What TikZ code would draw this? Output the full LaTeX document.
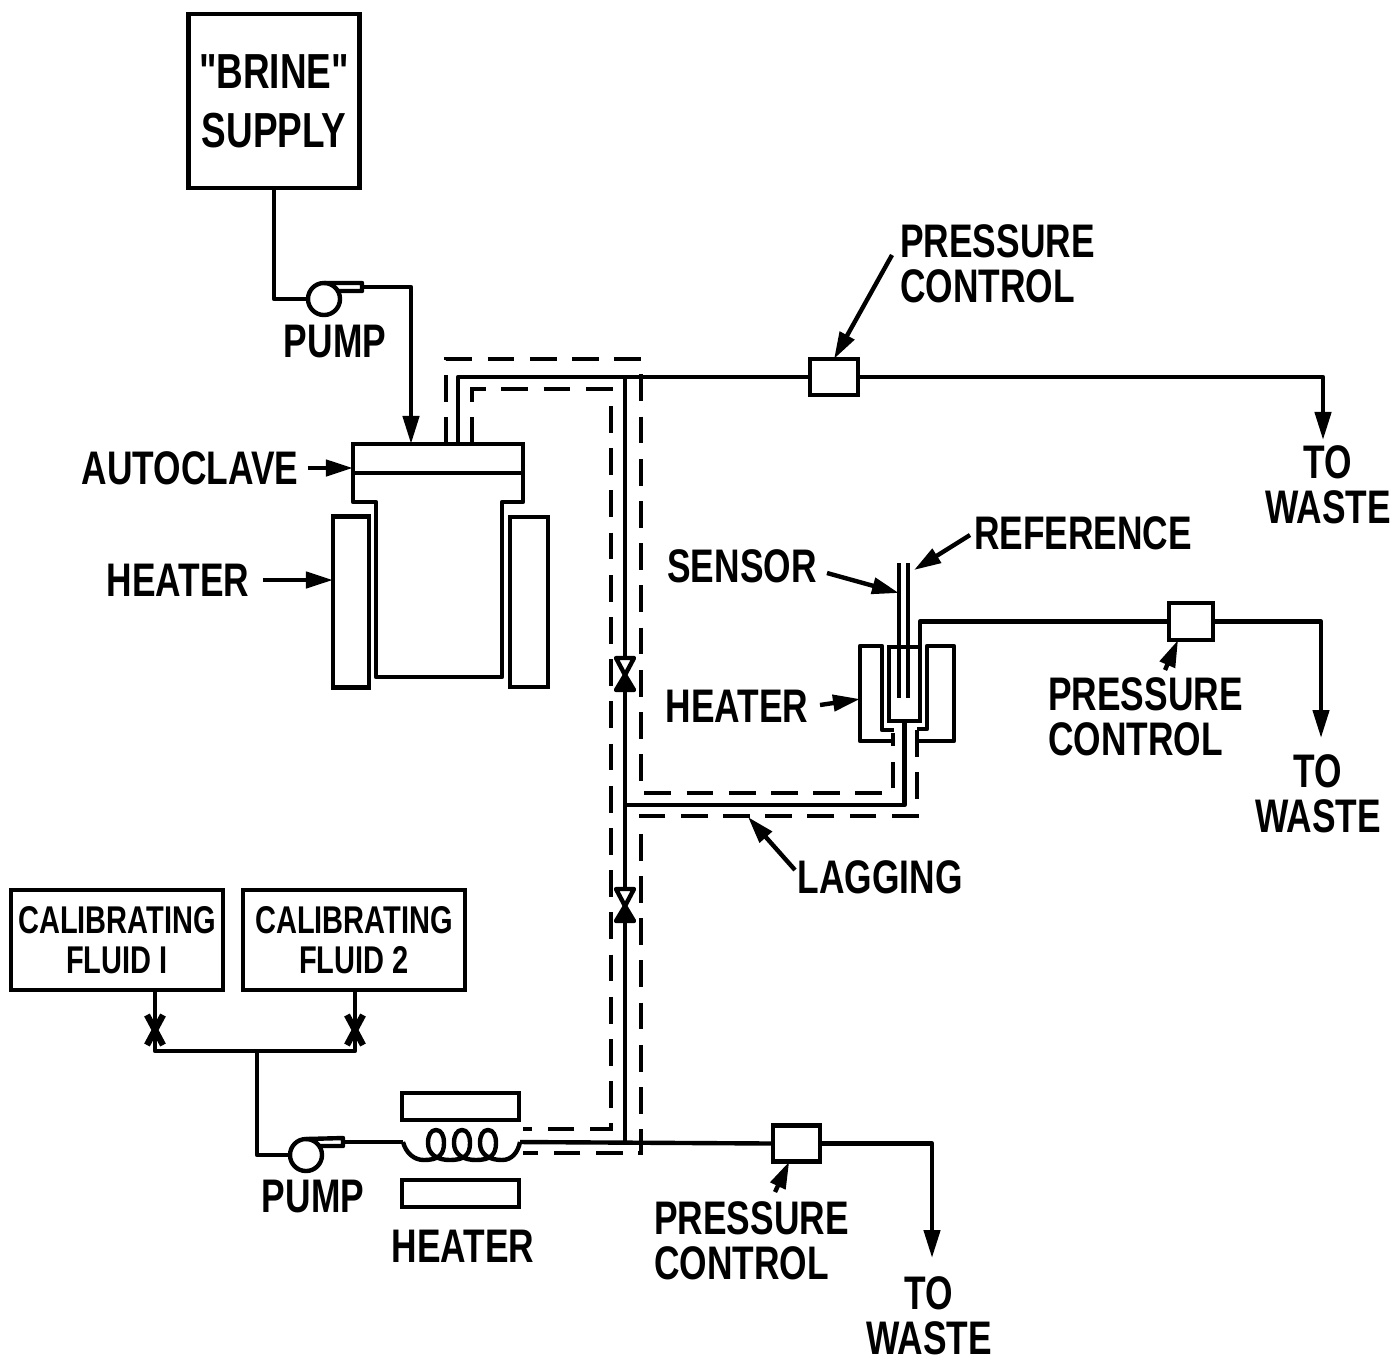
\documentclass[tikz,border=0pt]{standalone}
\usepackage{fontspec}
\setmainfont{Liberation Sans}[FakeStretch=0.75, Ligatures=TeXOff]
\usetikzlibrary{arrows.meta, calc}
\tikzset{
  pipe/.style={line width=1.25pt, line join=round},
  lagging/.style={line width=1.2pt, dash pattern=on 7.6pt off 4.4pt},
  flowarrow/.style={pipe, -{Triangle[length=2.8mm, width=1.6mm]}},
  callout/.style={pipe, -{Triangle[length=2.7mm, width=1.6mm]}},
  unitbox/.style={draw, line width=1.25pt, inner sep=0pt, outer sep=0pt},
  ctrlbox/.style={unitbox, minimum width=0.47cm, minimum height=0.36cm},
  pumpbody/.style={draw, circle, line width=1.25pt, inner sep=0pt, outer sep=0pt, minimum size=0.32cm},
  biglabel/.style={inner sep=1pt, align=center, font=\fontsize{13.4}{12.8}\selectfont\bfseries},
  leftlabel/.style={biglabel, align=left, anchor=west},
  calibbox/.style={unitbox, align=center, minimum height=1cm, font=\fontsize{11}{11.4}\selectfont\bfseries}
}
\begin{document}
\begin{tikzpicture}[x=0.01cm, y=-0.01cm]
\useasboundingbox (0,0) rectangle (1398,1360);

\node[unitbox, minimum width=1.71cm, minimum height=1.74cm, align=center, font=\fontsize{14}{16.8}\selectfont\bfseries] (brine) at (274,101) {"BRINE"\\SUPPLY};
\node[pumpbody] (pumpA) at (324,299) {};
\node[biglabel] (pumpAlbl) at (335,342) {PUMP};
\coordinate (pumpAout) at (362,287);
\coordinate (feedA) at (411,444);
\draw[pipe] (brine.south) |- (pumpA.west);
\draw[pipe] (pumpA.north) -- (362,283) -- (362,291) -- (337,291);
\draw[flowarrow] (pumpAout) -| (feedA);

\node[unitbox, minimum width=1.70cm, minimum height=0.29cm] (flange) at (438,458.5) {};
\draw[pipe] (353,473) -- (353,502) -- (376,502) -- (376,677) -- (502,677) -- (502,502) -- (523,502) -- (523,473);
\node[unitbox, minimum width=0.36cm, minimum height=1.71cm] (heaterL) at (351,602) {};
\node[unitbox, minimum width=0.38cm, minimum height=1.70cm] (heaterR) at (529,602) {};
\node[biglabel] (autoclave) at (190,468) {AUTOCLAVE};
\node[biglabel] (heaterAlbl) at (178,580) {HEATER};
\draw[callout] (autoclave.east) ++(5,0) -- (flange.west |- autoclave.east);
\draw[callout] (heaterAlbl.east) ++(9,0) -- (heaterL.west |- heaterAlbl.east);

\coordinate (tapA) at (458,444);
\coordinate (mainTop) at (625,377);
\coordinate (mainTee) at (625,805);
\coordinate (mainEnd) at (625,1143);
\node[ctrlbox, minimum width=0.48cm] (pcA) at (834,377) {};
\node[leftlabel] (pcAlbl) at (896,264) {PRESSURE\\[0pt]CONTROL};
\coordinate (pcAstart) at (892,255);
\coordinate (wasteAend) at (1323,440);
\node[biglabel] (wasteA) at (1328,485) {TO\\WASTE};
\draw[pipe] (tapA) |- (pcA.west);
\draw[flowarrow] (pcA.east) -| (wasteAend);
\draw[callout] (pcAstart) -- (pcA.north);
\draw[pipe] (mainTop) -- (mainEnd);
\draw[lagging] (446,444) -- (446,359) -- (641,359) -- (641,793) -- (893,793) -- (893,733);
\draw[lagging] (472,444) -- (472,389) -- (611,389) -- (611,1129) -- (523,1129);
\draw[lagging] (917,730) -- (917,816) -- (641,816) -- (641,1153) -- (523,1153);

\foreach \vname/\vy in {valveA/675, valveB/906}{
  \coordinate (\vname) at (625,\vy);
  \draw[pipe, fill=white] ($(\vname)+(-9,-17)$) -- ($(\vname)+(9,-17)$) -- (\vname) -- cycle;
  \draw[pipe, fill=black] (\vname) -- ($(\vname)+(9,15)$) -- ($(\vname)+(-9,15)$) -- cycle;
}

\node[unitbox, minimum width=0.31cm, minimum height=0.74cm] (cell) at (904.5,684) {};
\draw[pipe] (899,563) -- (899,698);
\draw[pipe] (908,563) -- (908,698);
\draw[pipe] (894,730) -- (882,730) -- (882,646) -- (860,646) -- (860,741) -- (892,741);
\draw[pipe] (917,729) -- (927,729) -- (927,646) -- (954,646) -- (954,741) -- (919,741);
\draw[pipe] (mainTee) -| (cell.south);
\node[ctrlbox, minimum width=0.44cm, minimum height=0.37cm] (pcB) at (1191,621.5) {};
\draw[pipe] (cell.north east) |- (pcB.west);
\coordinate (wasteBend) at (1321,738);
\draw[flowarrow] (pcB.east) -| (wasteBend);
\node[biglabel] (wasteB) at (1318,794) {TO\\WASTE};
\node[leftlabel] (pcBlbl) at (1044,717) {PRESSURE\\[0pt]CONTROL};
\coordinate (pcBstart) at (1165,670);
\draw[callout] (pcBstart) -- (pcB.-125);

\node[biglabel] (reference) at (1083,533) {REFERENCE};
\node[biglabel] (sensor) at (742,566) {SENSOR};
\node[biglabel] (heaterBlbl) at (737,706) {HEATER};
\node[biglabel] (lagginglbl) at (880,877) {LAGGING};
\coordinate (refstart) at (970,535);
\coordinate (reftip) at (914,570);
\coordinate (senstart) at (827,573);
\coordinate (sentip) at (899,593);
\coordinate (heatstart) at (820,705);
\coordinate (heattip) at (860,699);
\coordinate (lagstart) at (795,870);
\coordinate (lagtip) at (748,817);
\draw[callout] (refstart) -- (reftip);
\draw[callout] (senstart) -- (sentip);
\draw[callout] (heatstart) -- (heattip);
\draw[callout] (lagstart) -- (lagtip);

\node[calibbox, minimum width=2.12cm] (fluidA) at (117,940) {CALIBRATING\\FLUID I};
\node[calibbox, minimum width=2.22cm] (fluidB) at (354,940) {CALIBRATING\\FLUID 2};
\coordinate (valveC) at (155,1030);
\coordinate (valveD) at (355,1030);
\coordinate (joinT) at (257,1051);
\draw[pipe] (valveC |- fluidA.south) -- (valveC) |- (joinT) -| (valveD) -- (valveD |- fluidB.south);
\foreach \vname in {valveC, valveD}{
  \draw[line width=1.8pt] ($(\vname)+(-8,-15)$) -- ($(\vname)+(8,15)$);
  \draw[line width=1.8pt] ($(\vname)+(8,-15)$) -- ($(\vname)+(-8,15)$);
}

\node[pumpbody] (pumpB) at (306,1155) {};
\node[biglabel] (pumpBlbl) at (313,1196) {PUMP};
\coordinate (pumpBout) at (343,1142);
\coordinate (coilIn) at (403,1142);
\coordinate (coilOut) at (520,1142);
\draw[pipe] (joinT) |- (pumpB.west);
\draw[pipe] (pumpB.north) -- (343,1138) -- (343,1146) -- (319,1146);
\draw[pipe] (pumpBout) -- (coilIn);
\draw[pipe] (coilIn) .. controls (406,1153) and (414,1160) .. (424,1160);
\foreach \dx in {0,26,52}{
  \draw[pipe, shift={(\dx,0)}] (424,1160) .. controls (438,1160) and (444,1155) .. (444,1143) .. controls (444,1135) and (441,1130) .. (436,1130) .. controls (431,1130) and (428,1135) .. (428,1143) .. controls (428,1155) and (438,1160) .. (450,1160);
}
\draw[pipe] (502,1160) .. controls (512,1160) and (518,1152) .. (coilOut);
\node[unitbox, minimum width=1.17cm, minimum height=0.27cm] (heaterCtop) at (460.5,1106.5) {};
\node[unitbox, minimum width=1.17cm, minimum height=0.27cm] (heaterCbot) at (460.5,1193.5) {};
\node[biglabel] (heaterClbl) at (463,1246) {HEATER};
\node[ctrlbox] (pcC) at (796.5,1143.5) {};
\coordinate (wasteCend) at (932,1258);
\draw[pipe] (coilOut) -- (pcC.west);
\draw[flowarrow] (pcC.east) -| (wasteCend);
\node[leftlabel] (pcClbl) at (650,1241) {PRESSURE\\[0pt]CONTROL};
\node[biglabel] (wasteC) at (929,1316) {TO\\WASTE};
\coordinate (pcCstart) at (775,1192);
\draw[callout] (pcCstart) -- (pcC.-112);
\end{tikzpicture}
\end{document}
